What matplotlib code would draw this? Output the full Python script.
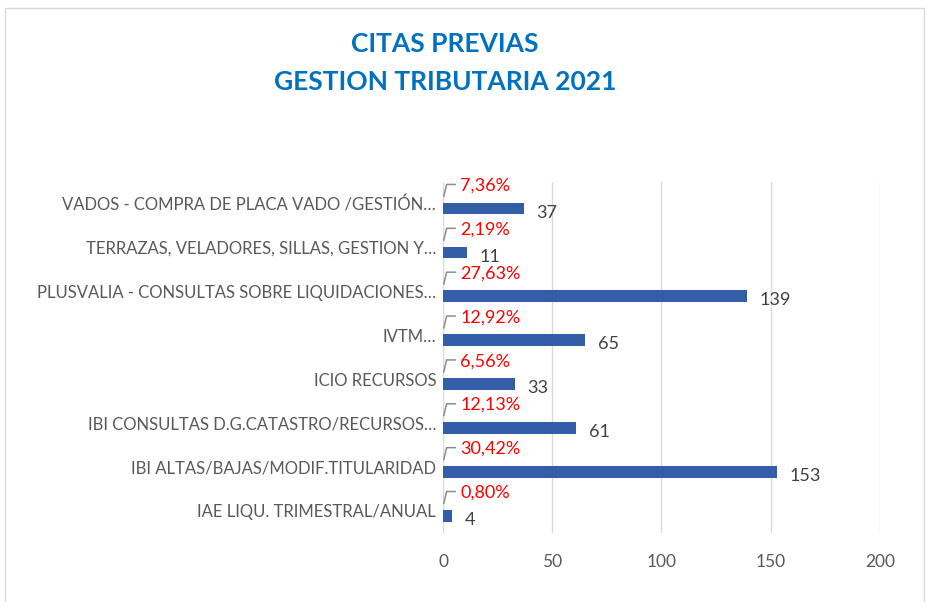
import matplotlib.pyplot as plt
from matplotlib.patches import Rectangle
import numpy as np

# datos
categorias = ["IAE LIQU. TRIMESTRAL/ANUAL",
              "IBI ALTAS/BAJAS/MODIF.TITULARIDAD",
              "IBI CONSULTAS D.G.CATASTRO/RECURSOS…",
              "ICIO RECURSOS",
              "IVTM…",
              "PLUSVALIA - CONSULTAS SOBRE LIQUIDACIONES…",
              "TERRAZAS, VELADORES, SILLAS, GESTION Y…",
              "VADOS - COMPRA DE PLACA VADO /GESTIÓN…"]
citas = [4, 153, 61, 33, 65, 139, 11, 37]
porcentajes = ["0,80%", "30,42%", "12,13%", "6,56%", "12,92%", "27,63%", "2,19%", "7,36%"]
xticks = [0, 50, 100, 150, 200]

plt.rcParams['font.family'] = ['Lato', 'DejaVu Sans']

fig = plt.figure(figsize=(9.29, 6.02), dpi=100)
fig.patches.append(Rectangle((0.005, -0.01), 0.99, 0.997, transform=fig.transFigure,
                             fill=False, edgecolor="#d9d9d9", linewidth=1))
ax = fig.add_axes([0.477, 0.115, 0.47, 0.583])

y = np.arange(len(categorias))
yb = y - 0.11  # las barras caen un poco por debajo del centro
ax.barh(yb, citas, height=0.27, color="#335da6", zorder=3)

for i, v in enumerate(citas):
    ax.annotate(str(v), (v, yb[i]), xytext=(9, -3), textcoords="offset points",
                ha="left", va="center", fontsize=13, color="#404040")
    ax.plot([0.3, 1.6, 5.5], [yb[i] + 0.28, yb[i] + 0.55, yb[i] + 0.55],
            color="#8c8c8c", lw=1.1, zorder=4)
    ax.text(7.8, yb[i] + 0.52, porcentajes[i], ha="left", va="center",
            fontsize=13, color="#ff0000")

ax.set_xlim(0, 200)
ax.set_ylim(-0.5, len(categorias) - 0.5)
ax.set_yticks(y)
ax.set_yticklabels(categorias, fontsize=12, color="#595959")
ax.set_xticks(xticks)
ax.set_xticklabels([str(t) for t in xticks], fontsize=12.5, color="#595959")
ax.tick_params(length=0, axis="y", pad=5)
ax.tick_params(length=0, axis="x", pad=15)
ax.grid(axis="x", color="#d9d9d9", lw=1, zorder=0)
for s in ax.spines.values():
    s.set_visible(False)

fig.text(0.479, 0.927, "CITAS PREVIAS", ha="center", va="center",
         fontsize=19, fontweight="bold", color="#0070c0")
fig.text(0.479, 0.864, "GESTION TRIBUTARIA 2021", ha="center", va="center",
         fontsize=19, fontweight="bold", color="#0070c0")

plt.savefig("out.png", dpi=100)
